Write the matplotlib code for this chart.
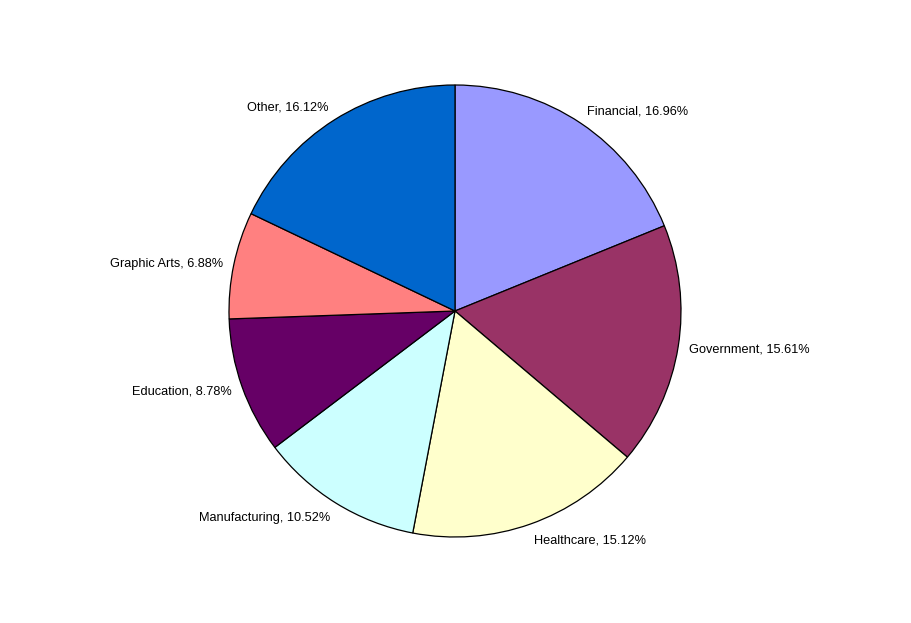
import matplotlib
matplotlib.use("Agg")
import numpy as np
import matplotlib.pyplot as plt

categories = ["Financial", "Government", "Healthcare", "Manufacturing",
              "Education", "Graphic Arts", "Other"]
shares = [16.96, 15.61, 15.12, 10.52, 8.78, 6.88, 16.12]
colors = ["#9999FF", "#993366", "#FFFFCC", "#CCFFFF",
          "#660066", "#FF8080", "#0066CC"]

labels = [f"{c}, {v:.2f}%" for c, v in zip(categories, shares)]

W, H = 911, 623
cx, cy, R = 455, 311, 226

fig = plt.figure(figsize=(W / 100, H / 100), dpi=100)
ax = fig.add_axes([0, 0, 1, 1])
wedges, _ = ax.pie(
    shares, colors=colors, startangle=90, counterclock=False,
    wedgeprops=dict(edgecolor="black", linewidth=0.9),
)

# Labels sit just outside the rim on each wedge's bisector; the text box
# corner nearest the pie is anchored there.
label_r = 1.049
for w, text in zip(wedges, labels):
    ang = np.deg2rad((w.theta1 + w.theta2) / 2)
    x, y = label_r * np.cos(ang), label_r * np.sin(ang)
    ha = "left" if x > 0 else "right"
    s = np.sin(ang)
    va = "baseline" if s > 0.5 else ("top" if s < -0.5 else "center_baseline")
    ax.text(x, y, text, ha=ha, va=va, fontsize=9.2,
            family=["Liberation Sans", "DejaVu Sans"])

ax.set_xlim(-cx / R, (W - cx) / R)
ax.set_ylim(-(H - cy) / R, cy / R)
ax.set_aspect("equal")
ax.axis("off")
fig.savefig("out.png", dpi=100, facecolor="white")
